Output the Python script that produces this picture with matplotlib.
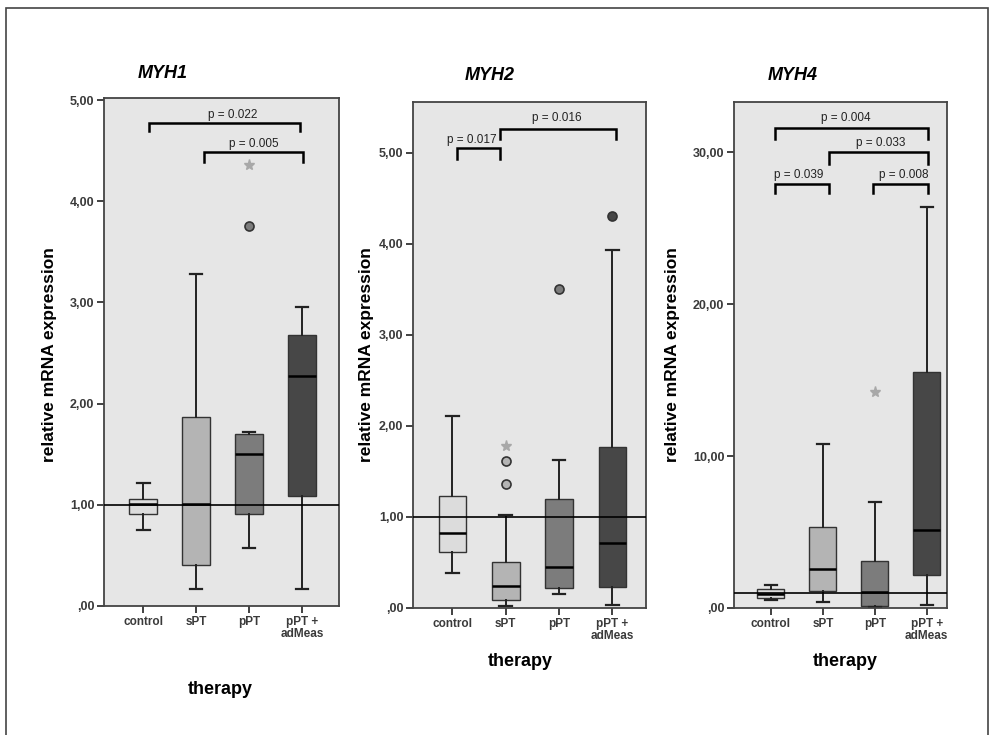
import matplotlib
matplotlib.use('Agg')
import matplotlib.pyplot as plt
from matplotlib.patches import Rectangle

plt.rcParams['font.family'] = ['Liberation Sans', 'DejaVu Sans']

# categories
groups = ["control", "sPT", "pPT", "pPT +\nadMeas"]
positions = [1, 2, 3, 4]
box_colors = ["#dcdcdc", "#b4b4b4", "#7c7c7c", "#474747"]

# MYH1 box stats
myh1_q1 = [0.91, 0.41, 0.91, 1.085]
myh1_med = [1.01, 1.01, 1.50, 2.27]
myh1_q3 = [1.056, 1.87, 1.70, 2.68]
myh1_lo = [0.75, 0.165, 0.57, 0.17]
myh1_hi = [1.22, 3.28, 1.72, 2.95]
myh1_circle_pos = [3]
myh1_circle_val = [3.76]
myh1_star_pos = [3]
myh1_star_val = [4.36]

# MYH2 box stats
myh2_q1 = [0.62, 0.09, 0.22, 0.23]
myh2_med = [0.82, 0.24, 0.45, 0.71]
myh2_q3 = [1.23, 0.51, 1.20, 1.77]
myh2_lo = [0.38, 0.02, 0.15, 0.03]
myh2_hi = [2.11, 1.02, 1.63, 3.93]
myh2_circle_pos = [2, 2, 3, 4]
myh2_circle_val = [1.62, 1.36, 3.50, 4.31]
myh2_star_pos = [2]
myh2_star_val = [1.78]

# MYH4 box stats
myh4_q1 = [0.64, 1.15, 0.11, 2.16]
myh4_med = [0.95, 2.54, 1.06, 5.14]
myh4_q3 = [1.28, 5.36, 3.09, 15.5]
myh4_lo = [0.55, 0.40, 0.04, 0.18]
myh4_hi = [1.5, 10.77, 7.0, 26.37]
myh4_circle_pos = []
myh4_circle_val = []
myh4_star_pos = [3]
myh4_star_val = [14.24]

# y ticks
myh1_yticks = [0, 1, 2, 3, 4, 5]
myh1_ylabels = [",00", "1,00", "2,00", "3,00", "4,00", "5,00"]
myh2_yticks = [0, 1, 2, 3, 4, 5]
myh2_ylabels = [",00", "1,00", "2,00", "3,00", "4,00", "5,00"]
myh4_yticks = [0, 10, 20, 30]
myh4_ylabels = [",00", "10,00", "20,00", "30,00"]

# p-value brackets: x1, x2, bar y, drop, label, text x, text y
myh1_brackets = [(1.11, 3.96, 4.77, 0.08, "p = 0.022", 2.69, 4.85),
                 (2.15, 4.02, 4.49, 0.10, "p = 0.005", 3.09, 4.57)]
myh2_brackets = [(1.08, 1.89, 5.05, 0.12, "p = 0.017", 1.36, 5.14),
                 (1.89, 4.07, 5.26, 0.11, "p = 0.016", 2.95, 5.38)]
myh4_brackets = [(1.08, 4.03, 31.6, 0.72, "p = 0.004", 2.44, 32.25),
                 (2.11, 4.03, 30.02, 0.8, "p = 0.033", 3.11, 30.6),
                 (1.08, 2.11, 27.88, 0.6, "p = 0.039", 1.54, 28.5),
                 (2.97, 4.03, 27.9, 0.6, "p = 0.008", 3.55, 28.5)]

W, H = 990, 735
fig = plt.figure(figsize=(9.9, 7.35), dpi=100)

# outer frame
fig.patches.append(Rectangle((6 / W, -0.05), 982 / W, 1.05 - 8 / H,
                             transform=fig.transFigure, fill=False,
                             edgecolor="#444444", lw=1.2))

panels = [
    dict(name="MYH1", box=(104, 98, 339, 606), xlim=(0.26, 4.70), ylim=(0, 5.02),
         q1=myh1_q1, med=myh1_med, q3=myh1_q3, lo=myh1_lo, hi=myh1_hi,
         cpos=myh1_circle_pos, cval=myh1_circle_val, spos=myh1_star_pos, sval=myh1_star_val,
         yt=myh1_yticks, yl=myh1_ylabels, br=myh1_brackets,
         title=(163, 73), ylab=(50, 355), xlab=(220, 690)),
    dict(name="MYH2", box=(413, 102, 646, 608), xlim=(0.26, 4.63), ylim=(0, 5.56),
         q1=myh2_q1, med=myh2_med, q3=myh2_q3, lo=myh2_lo, hi=myh2_hi,
         cpos=myh2_circle_pos, cval=myh2_circle_val, spos=myh2_star_pos, sval=myh2_star_val,
         yt=myh2_yticks, yl=myh2_ylabels, br=myh2_brackets,
         title=(490, 76), ylab=(367, 355), xlab=(520, 662)),
    dict(name="MYH4", box=(734, 102, 947, 608), xlim=(0.29, 4.39), ylim=(0, 33.3),
         q1=myh4_q1, med=myh4_med, q3=myh4_q3, lo=myh4_lo, hi=myh4_hi,
         cpos=myh4_circle_pos, cval=myh4_circle_val, spos=myh4_star_pos, sval=myh4_star_val,
         yt=myh4_yticks, yl=myh4_ylabels, br=myh4_brackets,
         title=(793, 76), ylab=(673, 355), xlab=(845, 662)),
]

for p in panels:
    l, t, r, b = p["box"]
    ax = fig.add_axes([l / W, 1 - b / H, (r - l) / W, (b - t) / H])
    ax.set_facecolor("#e6e6e6")

    stats = []
    for i in range(4):
        stats.append(dict(med=p["med"][i], q1=p["q1"][i], q3=p["q3"][i],
                          whislo=p["lo"][i], whishi=p["hi"][i], fliers=[]))
    bp = ax.bxp(stats, positions=positions, widths=0.52, capwidths=0.24,
                patch_artist=True, showfliers=False,
                boxprops=dict(edgecolor="#333333", linewidth=1.0),
                medianprops=dict(color="black", linewidth=1.8),
                whiskerprops=dict(color="#222222", linewidth=1.4),
                capprops=dict(color="#222222", linewidth=1.6))
    for patch, c in zip(bp["boxes"], box_colors):
        patch.set_facecolor(c)

    # outliers
    for x, v in zip(p["cpos"], p["cval"]):
        ax.plot(x, v, "o", ms=6.5, mfc=box_colors[x - 1], mec="#333333", mew=1.2, zorder=4)
    for x, v in zip(p["spos"], p["sval"]):
        ax.plot(x, v, "*", ms=8, color="#a8a8a8", zorder=4)

    ax.axhline(1, color="black", lw=1.2, zorder=5)

    for x1, x2, y, d, lab, tx, ty in p["br"]:
        ax.plot([x1, x1, x2, x2], [y - d, y, y, y - d], color="black", lw=1.8,
                solid_joinstyle="miter", zorder=6)
        ax.text(tx, ty, lab, ha="center", va="center", fontsize=8.5, color="#222222")

    ax.set_xlim(*p["xlim"])
    ax.set_ylim(*p["ylim"])
    ax.set_xticks(positions)
    ax.set_xticklabels(groups, fontsize=8.5, fontweight="bold", color="#3a3a3a", linespacing=1.05)
    ax.set_yticks(p["yt"])
    ax.set_yticklabels(p["yl"], fontsize=9, fontweight="bold", color="#3a3a3a")
    ax.tick_params(direction="out", length=5, width=1.3, color="#333333", pad=2)
    for s in ax.spines.values():
        s.set_color("#444444")
        s.set_linewidth(1.3)

    fig.text(p["title"][0] / W, 1 - p["title"][1] / H, p["name"], ha="center", va="center",
             fontsize=13, fontweight="bold", style="italic")
    fig.text(p["ylab"][0] / W, 1 - p["ylab"][1] / H, "relative mRNA expression",
             rotation=90, ha="center", va="center", fontsize=12.5, fontweight="bold")
    fig.text(p["xlab"][0] / W, 1 - p["xlab"][1] / H, "therapy", ha="center", va="center",
             fontsize=13, fontweight="bold")

fig.savefig("out.png", dpi=100)
